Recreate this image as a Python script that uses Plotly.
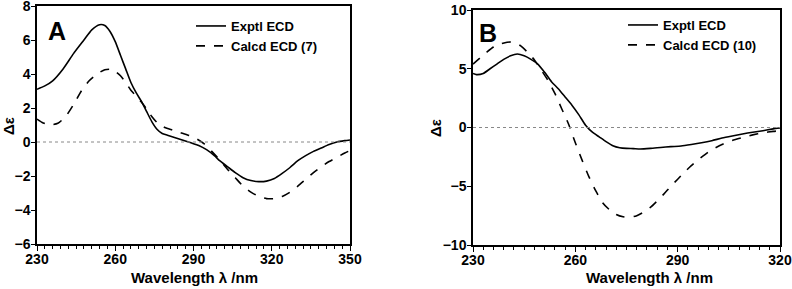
import plotly.graph_objects as go

# ---------------- Data ----------------
wl_a_exp = [230, 233, 236, 240, 244, 248, 251, 254, 256, 258, 260, 262, 264, 266, 268, 270, 272, 274, 276, 278,
            280, 283, 286, 289, 292, 295, 298, 300, 303, 306, 309, 312, 315, 318, 321, 324, 327, 330, 333, 336,
            339, 342, 345, 348, 350]
de_a_exp = [3.1, 3.3, 3.6, 4.3, 5.2, 6.0, 6.6, 6.9, 6.85, 6.5, 5.9, 5.1, 4.3, 3.5, 2.9, 2.4, 1.8, 1.2, 0.75, 0.5,
            0.4, 0.25, 0.1, -0.05, -0.2, -0.45, -0.8, -1.1, -1.45, -1.8, -2.1, -2.27, -2.33, -2.3, -2.15, -1.85,
            -1.5, -1.1, -0.8, -0.55, -0.35, -0.15, 0.0, 0.08, 0.12]

wl_a_calc = [230, 232, 234, 236, 238, 241, 244, 247, 250, 253, 256, 258, 260, 262, 264, 266, 268, 270, 272, 274,
             276, 279, 282, 285, 288, 291, 294, 297, 300, 303, 306, 309, 312, 315, 318, 321, 324, 327, 330, 333,
             336, 339, 342, 345, 348, 350]
de_a_calc = [1.35, 1.15, 1.05, 1.02, 1.1, 1.5, 2.2, 3.0, 3.6, 4.0, 4.25, 4.28, 4.15, 3.9, 3.5, 3.05, 2.7, 2.35,
             1.95, 1.5, 1.15, 0.85, 0.7, 0.55, 0.4, 0.2, -0.1, -0.55, -1.05, -1.6, -2.1, -2.6, -2.95, -3.2, -3.33,
             -3.33, -3.2, -2.95, -2.6, -2.2, -1.8, -1.45, -1.15, -0.9, -0.65, -0.5]

wl_b_exp = [230, 231, 233, 235, 237, 239, 241, 243, 245, 247, 249, 251, 253, 255, 257, 259, 261, 263, 265, 267,
            269, 271, 273, 275, 277, 279, 282, 285, 288, 291, 294, 297, 300, 303, 306, 309, 312, 315, 318, 320]
de_b_exp = [4.6, 4.5, 4.6, 5.0, 5.4, 5.8, 6.1, 6.25, 6.1, 5.8, 5.4, 4.7, 3.9, 3.3, 2.6, 1.9, 1.1, 0.2, -0.4, -0.8,
            -1.2, -1.55, -1.72, -1.78, -1.8, -1.83, -1.78, -1.7, -1.63, -1.58, -1.45, -1.3, -1.12, -0.9, -0.72,
            -0.55, -0.4, -0.27, -0.12, -0.04]

wl_b_calc = [230, 232, 234, 236, 238, 240, 241, 242, 244, 246, 248, 250, 252, 254, 256, 258, 260, 262, 264, 266,
             268, 270, 272, 274, 276, 278, 280, 282, 284, 286, 288, 290, 292, 294, 296, 298, 300, 303, 306, 309,
             312, 315, 318, 320]
de_b_calc = [5.4, 5.9, 6.4, 6.85, 7.1, 7.25, 7.28, 7.25, 6.95, 6.4, 5.75, 4.9, 4.0, 2.9, 1.6, 0.3, -1.3, -2.8,
             -4.2, -5.4, -6.4, -7.0, -7.4, -7.6, -7.65, -7.5, -7.2, -6.8, -6.25, -5.65, -5.0, -4.4, -3.8, -3.25,
             -2.75, -2.3, -1.9, -1.45, -1.1, -0.85, -0.63, -0.45, -0.33, -0.27]

# axis settings (ranges / ticks)
x_range_a, x_step_a = [230, 350], 30
y_range_a = [-6, 8]
y_ticks_a = [-6, -4, -2, 0, 2, 4, 6, 8]
x_range_b, x_step_b = [230, 320], 30
y_range_b = [-10, 10]
y_ticks_b = [-10, -5, 0, 5, 10]
minor_step = 3

# ---------------- Figure ----------------
FONT = "Liberation Sans, Arial, sans-serif"
W, H = 792, 289

fig = go.Figure()
line_kw = dict(color="black", width=1.6, shape="spline", smoothing=0.6)

fig.add_trace(go.Scatter(x=wl_a_exp, y=de_a_exp, mode="lines", name="Exptl ECD",
                         line=dict(**line_kw, dash="solid"), xaxis="x", yaxis="y", legend="legend"))
fig.add_trace(go.Scatter(x=wl_a_calc, y=de_a_calc, mode="lines", name="Calcd ECD (7)",
                         line=dict(**line_kw, dash="dash"), xaxis="x", yaxis="y", legend="legend"))
fig.add_trace(go.Scatter(x=wl_b_exp, y=de_b_exp, mode="lines", name="Exptl ECD",
                         line=dict(**line_kw, dash="solid"), xaxis="x2", yaxis="y2", legend="legend2"))
fig.add_trace(go.Scatter(x=wl_b_calc, y=de_b_calc, mode="lines", name="Calcd ECD (10)",
                         line=dict(**line_kw, dash="dash"), xaxis="x2", yaxis="y2", legend="legend2"))

def px_x(p):
    return p / W

def px_y(p):
    return 1 - p / H

tickfont = dict(family=FONT, size=14, color="black", weight="bold")
axis_common = dict(showline=True, linecolor="black", linewidth=1.5, mirror=True, showgrid=False,
                   zeroline=False, ticks="outside", tickcolor="black", tickwidth=1.3, tickfont=tickfont,
                   automargin=False, ticklabeloverflow="allow")
minor_x = dict(dtick=minor_step, tick0=230, ticks="outside", ticklen=3, tickcolor="black", tickwidth=1.1,
               showgrid=False)

fig.update_layout(
    width=W, height=H,
    margin=dict(l=0, r=0, t=0, b=0, pad=0, autoexpand=False),
    paper_bgcolor="white", plot_bgcolor="white",
    font=dict(family=FONT, color="black"),
    xaxis=dict(domain=[px_x(37), px_x(350)], range=x_range_a, tickmode="linear", tick0=230, dtick=x_step_a,
               ticklen=5, ticklabelstandoff=-4, minor=minor_x, anchor="y", **axis_common),
    yaxis=dict(domain=[px_y(244), px_y(6)], range=y_range_a, tickmode="array", tickvals=y_ticks_a,
               ticklen=4, ticklabelstandoff=-2, anchor="x", **axis_common),
    xaxis2=dict(domain=[px_x(473), px_x(780)], range=x_range_b, tickmode="linear", tick0=230, dtick=x_step_b,
                ticklen=5, ticklabelstandoff=-4, minor=minor_x, anchor="y2", **axis_common),
    yaxis2=dict(domain=[px_y(245), px_y(10)], range=y_range_b, tickmode="array", tickvals=y_ticks_b,
                ticklen=4, ticklabelstandoff=-2, anchor="x2", **axis_common),
    legend=dict(x=px_x(191), y=px_y(11), xanchor="left", yanchor="top", bgcolor="rgba(0,0,0,0)",
                font=dict(family=FONT, size=13, color="black", weight="bold"), tracegroupgap=0,
                itemwidth=30),
    legend2=dict(x=px_x(623), y=px_y(10), xanchor="left", yanchor="top", bgcolor="rgba(0,0,0,0)",
                 font=dict(family=FONT, size=13, color="black", weight="bold"), tracegroupgap=0,
                 itemwidth=30),
    showlegend=True,
)

# dotted zero reference lines
fig.add_shape(type="line", xref="x domain", yref="y", x0=0, x1=1, y0=0, y1=0,
              line=dict(color="#888888", width=1, dash="dot"))
fig.add_shape(type="line", xref="x2 domain", yref="y2", x0=0, x1=1, y0=0, y1=0,
              line=dict(color="#888888", width=1, dash="dot"))

titlefont = dict(family=FONT, size=15, color="black", weight="bold")
annos = [
    dict(text="A", x=px_x(46), y=px_y(31), xanchor="left", yanchor="middle",
         font=dict(family=FONT, size=25, color="black", weight="bold")),
    dict(text="B", x=px_x(477), y=px_y(33), xanchor="left", yanchor="middle",
         font=dict(family=FONT, size=25, color="black", weight="bold")),
    dict(text="Wavelength λ /nm", x=px_x(194), y=px_y(277), xanchor="center", yanchor="middle", font=titlefont),
    dict(text="Wavelength λ /nm", x=px_x(649), y=px_y(277), xanchor="center", yanchor="middle", font=titlefont),
    dict(text="Δε", x=px_x(8), y=px_y(126), xanchor="center", yanchor="middle", textangle=-90, font=titlefont),
    dict(text="Δε", x=px_x(435), y=px_y(128), xanchor="center", yanchor="middle", textangle=-90, font=titlefont),
]
for a in annos:
    fig.add_annotation(xref="paper", yref="paper", showarrow=False, **a)

fig.write_html("out.html", config={"displayModeBar": False},
               post_script="document.body.style.margin='0px';")
